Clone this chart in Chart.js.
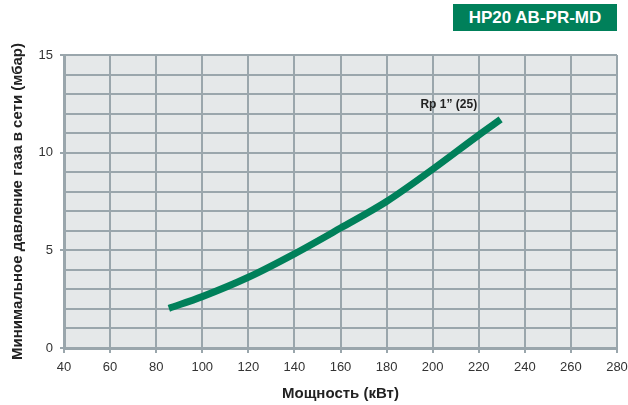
<!DOCTYPE html>
<html>
<head>
<meta charset="utf-8">
<script src="https://cdn.jsdelivr.net/npm/chart.js@4.4.0/dist/chart.umd.min.js"></script>
<style>
  html, body { margin: 0; padding: 0; background: #fff; }
  #wrap { position: relative; width: 628px; height: 405px; }
  #badge {
    position: absolute; left: 453px; top: 4px; width: 164px; height: 27px;
    background: #00805a; color: #fff; font: bold 17px "Liberation Sans", Arial, sans-serif;
    line-height: 28px; text-align: center;
  }
</style>
</head>
<body>
<div id="wrap">
  <canvas id="chart" width="628" height="405"></canvas>
  <div id="badge">HP20 AB-PR-MD</div>
</div>
<script>
// values
const power = [85.5, 100, 120, 140, 160, 180, 200, 220, 229.5];
const pressure = [2.03, 2.63, 3.62, 4.82, 6.14, 7.5, 9.15, 10.9, 11.7];
const curveLabel = "Rp 1\u201d (25)";
const xTitle = "Мощность (кВт)";
const yTitle = "Минимальное давление газа в сети (мбар)";

const gridColor = "#9aa6ac";
const green = "#00805a";
const titleFont = { family: "'Liberation Sans Narrow', 'Liberation Sans', Arial", size: 15, weight: "bold" };

const bgPlugin = {
  id: "bg",
  beforeDraw(chart) {
    const { ctx, chartArea: a } = chart;
    ctx.save();
    ctx.fillStyle = "#e5e8e9";
    ctx.fillRect(a.left, a.top, a.right - a.left, a.bottom - a.top);
    ctx.restore();
  },
  afterDatasetsDraw(chart) {
    const { ctx, scales } = chart;
    ctx.save();
    ctx.font = "bold 12px 'Liberation Sans', Arial";
    ctx.fillStyle = "#222";
    ctx.textAlign = "center";
    ctx.textBaseline = "middle";
    ctx.fillText(curveLabel, scales.x.getPixelForValue(207), scales.y.getPixelForValue(12.45));
    ctx.restore();
  },
};

new Chart(document.getElementById("chart"), {
  type: "line",
  data: {
    datasets: [
      {
        data: power.map((p, i) => ({ x: p, y: pressure[i] })),
        borderColor: green,
        borderWidth: 7,
        borderCapStyle: "butt",
        pointRadius: 0,
        cubicInterpolationMode: "monotone",
        fill: false,
      },
    ],
  },
  options: {
    responsive: false,
    animation: false,
    layout: { padding: { top: 55, right: 11, left: 0, bottom: 0 } },
    plugins: { legend: { display: false }, tooltip: { enabled: false } },
    scales: {
      x: {
        type: "linear",
        min: 40,
        max: 280,
        afterFit: (s) => { s.height = 57; s.paddingLeft = 0; s.paddingRight = 0; },
        ticks: { stepSize: 20, color: "#333", font: { family: "'Liberation Sans', Arial", size: 13 }, padding: 7, maxRotation: 0 },
        grid: { color: gridColor, lineWidth: 2, tickLength: 5, tickColor: gridColor },
        border: { color: gridColor, width: 3 },
        title: { display: true, text: xTitle, color: "#222", font: titleFont, padding: { top: 6, bottom: 2 } },
      },
      y: {
        min: 0,
        max: 15,
        afterFit: (s) => { s.width = 64; s.paddingTop = 0; s.paddingBottom = 0; },
        ticks: {
          stepSize: 1,
          autoSkip: false,
          color: "#333",
          font: { family: "'Liberation Sans', Arial", size: 13 },
          padding: 7,
          callback: (v) => (v % 5 === 0 ? v : ""),
        },
        grid: {
          color: gridColor,
          lineWidth: 2,
          tickLength: 4,
          tickColor: (c) => (c.tick && c.tick.value % 5 === 0 ? gridColor : "rgba(0,0,0,0)"),
        },
        border: { color: gridColor, width: 3 },
        title: { display: true, text: yTitle, color: "#222", font: titleFont, padding: { top: 9, bottom: 0 } },
      },
    },
  },
  plugins: [bgPlugin],
});
</script>
</body>
</html>
